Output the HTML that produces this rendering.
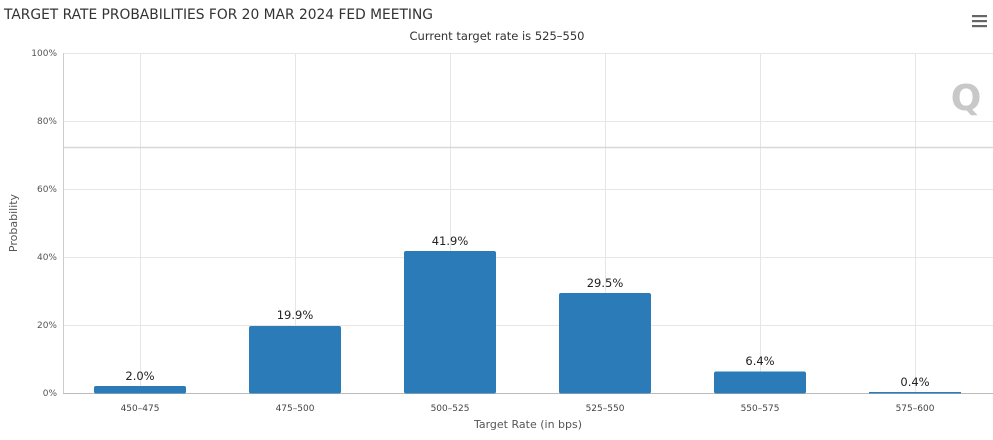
<!DOCTYPE html>
<html><head><style>body{margin:0;background:#fff}svg{display:block;font-family:"DejaVu Sans","Liberation Sans",sans-serif}</style></head><body>
<svg width="993" height="440" xmlns="http://www.w3.org/2000/svg">
<rect width="993" height="440" fill="#fff"/>
<text x="4" y="19" font-size="13.8" fill="#333" textLength="429" lengthAdjust="spacingAndGlyphs">TARGET RATE PROBABILITIES FOR 20 MAR 2024 FED MEETING</text>
<text x="497" y="40" font-size="11.5" fill="#333" text-anchor="middle">Current target rate is 525–550</text>
<g fill="#666"><rect x="972" y="15" width="15" height="2.2"/><rect x="972" y="20" width="15" height="2.2"/><rect x="972" y="25" width="15" height="2.2"/></g>
<g stroke="#e6e6e6" stroke-width="1">
<line x1="63" x2="993" y1="53.5" y2="53.5"/><line x1="63" x2="993" y1="121.5" y2="121.5"/><line x1="63" x2="993" y1="189.5" y2="189.5"/><line x1="63" x2="993" y1="257.5" y2="257.5"/><line x1="63" x2="993" y1="325.5" y2="325.5"/>
<line x1="140.5" x2="140.5" y1="53" y2="393"/><line x1="295.5" x2="295.5" y1="53" y2="393"/><line x1="450.5" x2="450.5" y1="53" y2="393"/><line x1="605.5" x2="605.5" y1="53" y2="393"/><line x1="760.5" x2="760.5" y1="53" y2="393"/><line x1="915.5" x2="915.5" y1="53" y2="393"/>
</g>
<line x1="63" x2="993" y1="147.5" y2="147.5" stroke="#d8d8d8" stroke-width="1.5"/>
<line x1="63.5" x2="63.5" y1="53" y2="393" stroke="#ccc"/>
<line x1="63" x2="993" y1="393.5" y2="393.5" stroke="#bbb"/>
<text x="966" y="110" font-size="36" font-weight="bold" fill="#c8c8c8" text-anchor="middle">Q</text>
<g font-size="9" fill="#555" text-anchor="end">
<text x="57" y="56">100%</text><text x="57" y="124">80%</text><text x="57" y="192">60%</text><text x="57" y="260">40%</text><text x="57" y="328">20%</text><text x="57" y="396">0%</text>
</g>
<text transform="translate(17,223) rotate(-90)" font-size="11" fill="#555" text-anchor="middle">Probability</text>
<g fill="#2b7bb8">
<rect x="94" y="386" width="92" height="7.5" rx="2"/>
<rect x="249" y="326" width="92" height="67.5" rx="2"/>
<rect x="404" y="251" width="92" height="142.5" rx="2"/>
<rect x="559" y="293" width="92" height="100.5" rx="2"/>
<rect x="714" y="371.5" width="92" height="22" rx="2"/>
<rect x="869" y="392" width="92" height="1.5"/>
</g>
<g font-size="11.5" fill="#222" text-anchor="middle">
<text x="140" y="380">2.0%</text><text x="295" y="319">19.9%</text><text x="450" y="245">41.9%</text><text x="605" y="287">29.5%</text><text x="760" y="365">6.4%</text><text x="915" y="386">0.4%</text>
</g>
<g font-size="9" fill="#444" text-anchor="middle">
<text x="140" y="411">450–475</text><text x="295" y="411">475–500</text><text x="450" y="411">500–525</text><text x="605" y="411">525–550</text><text x="760" y="411">550–575</text><text x="915" y="411">575–600</text>
</g>
<text x="528" y="428" font-size="11" fill="#555" text-anchor="middle">Target Rate (in bps)</text>
</svg>
</body></html>
